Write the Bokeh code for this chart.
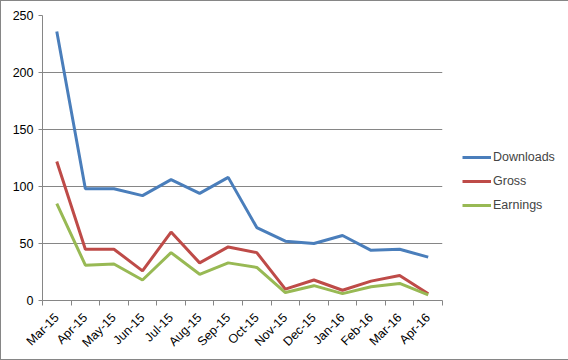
import math
from bokeh.plotting import figure
from bokeh.models import FixedTicker, Legend, LegendItem, Range1d
from bokeh.embed import file_html
from bokeh.resources import INLINE

months = ["Mar-15", "Apr-15", "May-15", "Jun-15", "Jul-15", "Aug-15", "Sep-15",
          "Oct-15", "Nov-15", "Dec-15", "Jan-16", "Feb-16", "Mar-16", "Apr-16"]
downloads = [236, 98, 98, 92, 106, 94, 108, 64, 52, 50, 57, 44, 45, 38]
gross = [122, 45, 45, 26, 60, 33, 47, 42, 10, 18, 9, 17, 22, 6]
earnings = [85, 31, 32, 18, 42, 23, 33, 29, 7, 13, 6, 12, 15, 5]
y_ticks = [0, 50, 100, 150, 200, 250]

FONT = "Liberation Sans"
GRID = "#868686"

x = list(range(len(months)))

p = figure(width=566, height=358, output_backend="svg", toolbar_location=None,
           x_range=Range1d(-0.5, len(months) - 0.5), y_range=Range1d(0, 250),
           min_border_left=41, min_border_top=14, min_border_right=0,
           min_border_bottom=59, frame_width=400, frame_height=285)
p.outline_line_color = None
p.background_fill_color = "white"
p.border_fill_color = "white"
p.styles = {"border": "1px solid #868686"}

r1 = p.line(x, downloads, line_color="#4A7EBB", line_width=3)
r2 = p.line(x, gross, line_color="#BE4B48", line_width=3)
r3 = p.line(x, earnings, line_color="#98B954", line_width=3)

# x axis
xt = FixedTicker(ticks=x, minor_ticks=[i - 0.5 for i in range(len(months) + 1)])
p.xaxis.ticker = xt
p.xaxis.major_label_overrides = {i: m for i, m in enumerate(months)}
p.xaxis.major_label_orientation = math.pi / 4
p.xaxis.major_tick_line_color = None
p.xaxis.minor_tick_line_color = GRID
p.xaxis.minor_tick_out = 5
p.xaxis.minor_tick_in = 0
p.xaxis.axis_line_color = GRID
p.xaxis.major_label_text_font = FONT
p.xaxis.major_label_text_font_size = "12.5px"
p.xaxis.major_label_text_color = "black"
p.xaxis.major_label_standoff = 9
p.xgrid.grid_line_color = None

# y axis
p.yaxis.ticker = FixedTicker(ticks=y_ticks)
p.yaxis.axis_line_color = GRID
p.yaxis.major_tick_line_color = GRID
p.yaxis.major_tick_out = 4
p.yaxis.major_tick_in = 0
p.yaxis.minor_tick_line_color = None
p.yaxis.major_label_text_font = FONT
p.yaxis.major_label_text_font_size = "12.5px"
p.yaxis.major_label_text_color = "black"
p.yaxis.major_label_standoff = 5
p.ygrid.ticker = FixedTicker(ticks=y_ticks)
p.ygrid.grid_line_color = GRID
p.ygrid.grid_line_width = 1

legend = Legend(items=[LegendItem(label="Downloads", renderers=[r1]),
                       LegendItem(label="Gross", renderers=[r2]),
                       LegendItem(label="Earnings", renderers=[r3])],
                location=(20, 85))
legend.border_line_color = None
legend.background_fill_alpha = 0
legend.label_text_font = FONT
legend.label_text_font_size = "12.5px"
legend.glyph_width = 29
legend.glyph_height = 20
legend.spacing = 4
legend.padding = 12
legend.margin = 0
legend.label_standoff = 2
p.add_layout(legend, "right")

open("out.html", "w").write(file_html(p, INLINE))
